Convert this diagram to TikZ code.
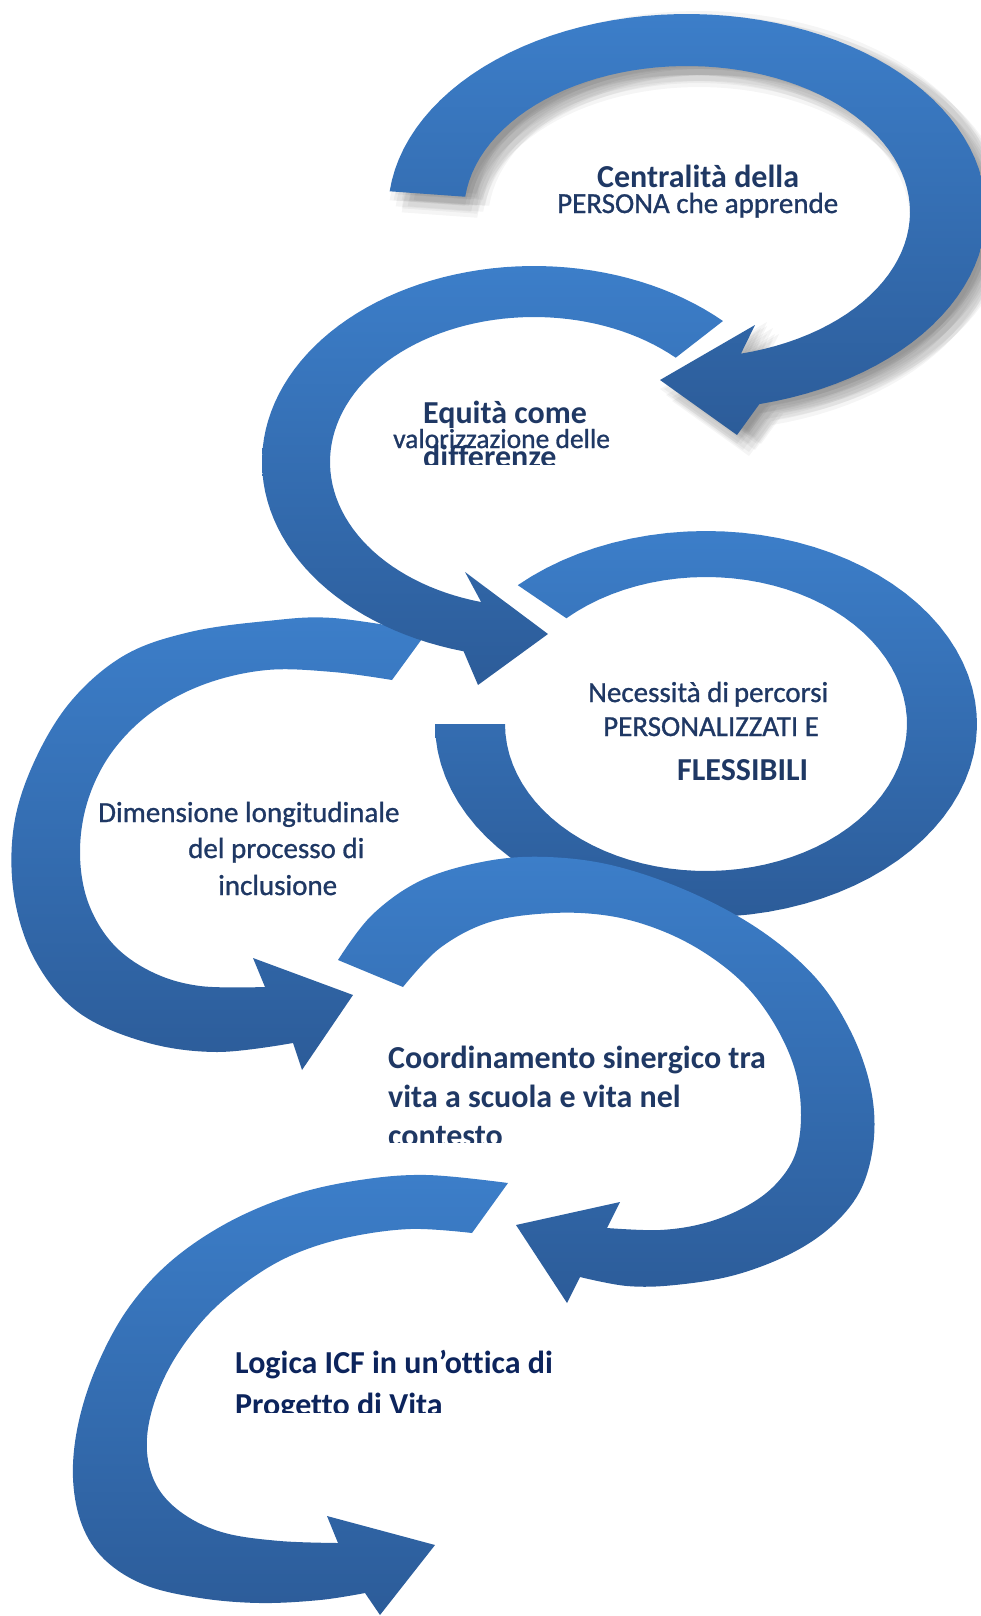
\documentclass[tikz,border=0pt]{standalone}
\usepackage{fontspec}
\setmainfont{Carlito}[Ligatures=CommonOff]
\usepackage{xcolor}

\definecolor{swirllight}{RGB}{60,126,201}
\definecolor{swirldark}{RGB}{44,92,153}
\definecolor{textnavy}{RGB}{31,56,100}
\definecolor{icfnavy}{RGB}{12,36,92}

\tikzset{
  swirl/.style={top color=swirllight, bottom color=swirldark},
  txtreg/.style={text=textnavy, inner sep=0pt, anchor=base west, font=\fontsize{29}{29}\selectfont\addfontfeature{FakeBold=1}},
  txtbold/.style={txtreg, font=\fontsize{32}{32}\selectfont\bfseries},
}

% top arrow, also used for its shadow
\newcommand{\arrowone}{plot[domain=186:436,samples=80] ({687+299*cos(\x)},{212+198*sin(\x)})
  -- (737,435) -- (660,380) -- (755,325)
  -- plot[domain=436:186,samples=80] ({687+223*cos(\x)},{212+146*sin(\x)}) -- cycle}

\begin{document}
\begin{tikzpicture}[x=1pt,y=-1pt]
    \useasboundingbox (0,0) rectangle (980,1616);

    % Arrow 4 (left, middle)
    \shade[swirl] plot[smooth,tension=.6] coordinates {(427,632) (333,618) (267,621) (190,632) (125,655) (72,700) (35,760) (14,825) (14,895) (35,960) (78,1012) (145,1042) (217,1052) (293,1043)}
        -- (302,1070) -- (353,995) -- (253,958)
        -- plot[smooth,tension=.6] coordinates {(265,987) (200,986) (152,972) (113,944) (88,902) (80,852) (88,800) (112,752) (152,712) (205,684) (267,670) (333,672) (392,680)} -- cycle;

    % Arrow 2
    \shade[swirl] plot[domain=314:105,samples=80] ({534+272*cos(\x)},{462+196*sin(\x)})
        -- (478,685) -- (548,634) -- (465,572)
        -- plot[domain=105:314,samples=80] ({534+204*cos(\x)},{462+145*sin(\x)}) -- cycle;

    % Arrow 3 (no head)
    \shade[swirl] plot[domain=226:540,samples=80] ({706+271*cos(\x)},{724+193*sin(\x)})
        -- plot[domain=540:226,samples=80] ({706+201*cos(\x)},{724+147*sin(\x)}) -- cycle;

    % Arrow 5
    \shade[swirl] plot[smooth,tension=.6] coordinates {(338,960) (372,915) (422,880) (487,861) (548,857) (615,866) (690,892) (760,930) (815,977) (850,1030) (870,1085) (874,1137) (862,1187) (834,1224) (792,1253) (735,1275) (675,1285) (627,1286) (580,1277)}
        -- (567,1303) -- (516,1225) -- (620,1202)
        -- plot[smooth,tension=.6] coordinates {(607,1228) (660,1230) (705,1223) (745,1207) (775,1185) (795,1155) (801,1115) (795,1070) (775,1025) (745,985) (705,953) (660,930) (610,916) (553,913) (490,922) (440,948) (403,987)} -- cycle;

    % Arrow 6 (bottom)
    \shade[swirl] plot[smooth,tension=.6] coordinates {(508,1183) (427,1175) (360,1180) (293,1195) (227,1223) (170,1262) (127,1310) (96,1368) (78,1425) (73,1478) (82,1525) (105,1560) (145,1585) (200,1598) (260,1603) (320,1600) (365,1593)}
        -- (380,1615) -- (435,1545) -- (327,1516)
        -- plot[smooth,tension=.6] coordinates {(338,1543) (280,1541) (225,1533) (185,1515) (158,1488) (147,1452) (152,1410) (172,1363) (205,1318) (245,1283) (290,1256) (345,1238) (410,1229) (472,1233)} -- cycle;

    % Arrow 1 with soft shadow
    \foreach \dx/\dy in {12/9, 4/9, 20/9, 12/1, 12/17, 6/3, 18/3, 6/15, 18/15, 0/9, 24/9, 12/-3, 12/21}
        \fill[black, opacity=.04, shift={(\dx,\dy)}] \arrowone;
    \shade[swirl] \arrowone;

    % Texts
    \node[txtbold] (cen1) at (597,188) {Centralità della};
    \node[txtreg]  (cen2) at (557,213) {PERSONA che apprende};

    \node[txtbold] (equ1) at (423,423) {Equità come};
    \node[txtreg, font=\fontsize{27.5}{27.5}\selectfont\addfontfeature{FakeBold=1}] (equ2) at (393,448) {valorizzazione delle};
    \begin{scope}
        \clip (380,430) rectangle (620,464);
        \node[txtbold] (equ3) at (423,467) {differenze};
    \end{scope}

    \node[txtreg]  (nec1) at (588,702) {Necessità di\,percorsi};
    \node[txtreg]  (nec2) at (603,736) {PERSONALIZZATI E};
    \node[txtbold] (nec3) at (677,780) {FLESSIBILI};

    \node[txtreg] (dim1) at (98,822) {Dimensione longitudinale};
    \node[txtreg] (dim2) at (188,858) {del processo di};
    \node[txtreg] (dim3) at (218,895) {inclusione};

    \node[txtbold] (coo1) at (388,1068) {Coordinamento sinergico tra};
    \node[txtbold] (coo2) at (388,1107) {vita a scuola e vita nel};
    \begin{scope}
        \clip (380,1110) rectangle (600,1142);
        \node[txtbold] (coo3) at (388,1146) {contesto};
    \end{scope}

    \node[txtbold, text=icfnavy] (icf1) at (235,1373) {Logica ICF in un’ottica di};
    \begin{scope}
        \clip (225,1378) rectangle (520,1412);
        \node[txtbold, text=icfnavy] (icf2) at (235,1415) {Progetto di Vita};
    \end{scope}
\end{tikzpicture}
\end{document}
